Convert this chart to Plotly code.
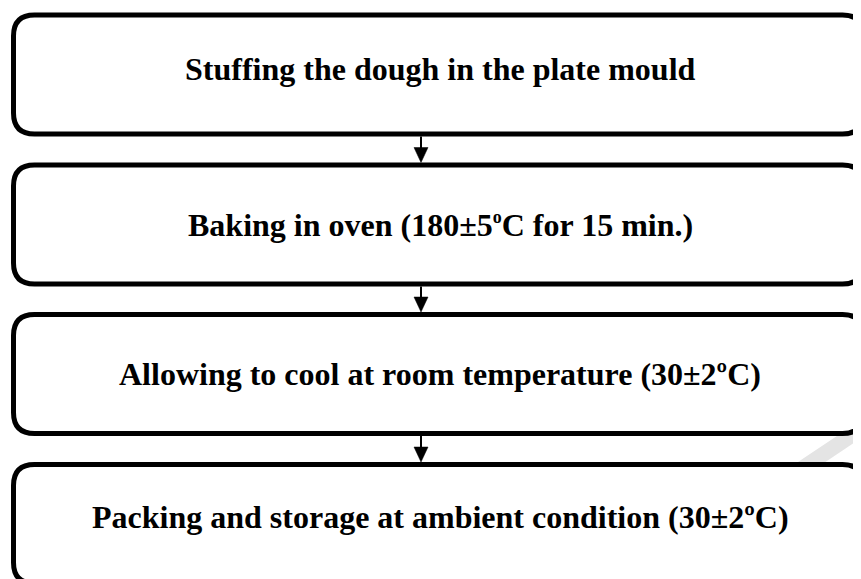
import plotly.graph_objects as go

# ---- content ----
steps = [
    "Stuffing the dough in the plate mould",
    "Baking in oven (180±5<sup><span style='font-size:18px'>o</span></sup>C for 15 min.)",
    "Allowing to cool at room temperature (30±2ºC)",
    "Packing and storage at ambient condition (30±2ºC)",
]

# ---- layout constants (screen pixels, y down) ----
W, H = 861, 579
OFF = 8  # page body margin: data coordinates == screen pixels
box_left, box_right = 13.5, 863.5
box_tops = [15, 165, 314.5, 464.5]
box_h = 119
radius = 21
line_w = 5
text_x = 440
text_y = [69, 225, 374, 516.5]
arrow_x = 421


def rounded_rect(x0, y0, x1, y1, r):
    return (f"M {x0+r},{y0} L {x1-r},{y0} Q {x1},{y0} {x1},{y0+r} "
            f"L {x1},{y1-r} Q {x1},{y1} {x1-r},{y1} L {x0+r},{y1} "
            f"Q {x0},{y1} {x0},{y1-r} L {x0},{y0+r} Q {x0},{y0} {x0+r},{y0} Z")


fig = go.Figure()
shapes = []
annotations = []

# faint watermark fragment (behind boxes)
shapes.append(dict(type="path", layer="below",
                   path="M 786,470 L 861,420 L 861,438 L 800,479 Z",
                   fillcolor="#e4e4e4", line=dict(width=0)))

for i, label in enumerate(steps):
    y0 = box_tops[i]
    y1 = y0 + box_h
    shapes.append(dict(type="path", path=rounded_rect(box_left, y0, box_right, y1, radius),
                       fillcolor="white", line=dict(color="black", width=line_w), layer="above"))
    annotations.append(dict(x=text_x, y=text_y[i], text="<b>" + label + "</b>", showarrow=False,
                            xanchor="center", yanchor="middle",
                            font=dict(family="Liberation Serif, Times New Roman, serif",
                                      size=32, color="black"),
                            xref="x", yref="y"))
    if i < len(steps) - 1:
        a0 = y1 + line_w / 2
        a1 = box_tops[i + 1] - line_w / 2
        head_top = a1 - 15
        shapes.append(dict(type="line", x0=arrow_x, x1=arrow_x, y0=a0, y1=head_top + 1,
                           line=dict(color="black", width=2)))
        shapes.append(dict(type="path",
                           path=f"M {arrow_x-7},{head_top} L {arrow_x+7},{head_top} L {arrow_x},{a1} Z",
                           fillcolor="black", line=dict(color="black", width=0.5)))

fig.update_layout(
    width=W, height=H,
    margin=dict(l=0, r=0, t=0, b=0),
    paper_bgcolor="white", plot_bgcolor="white",
    xaxis=dict(range=[OFF, W + OFF], visible=False, fixedrange=True),
    yaxis=dict(range=[H + OFF, OFF], visible=False, fixedrange=True),
    shapes=shapes, annotations=annotations,
    showlegend=False,
)

fig.write_html("out.html")
